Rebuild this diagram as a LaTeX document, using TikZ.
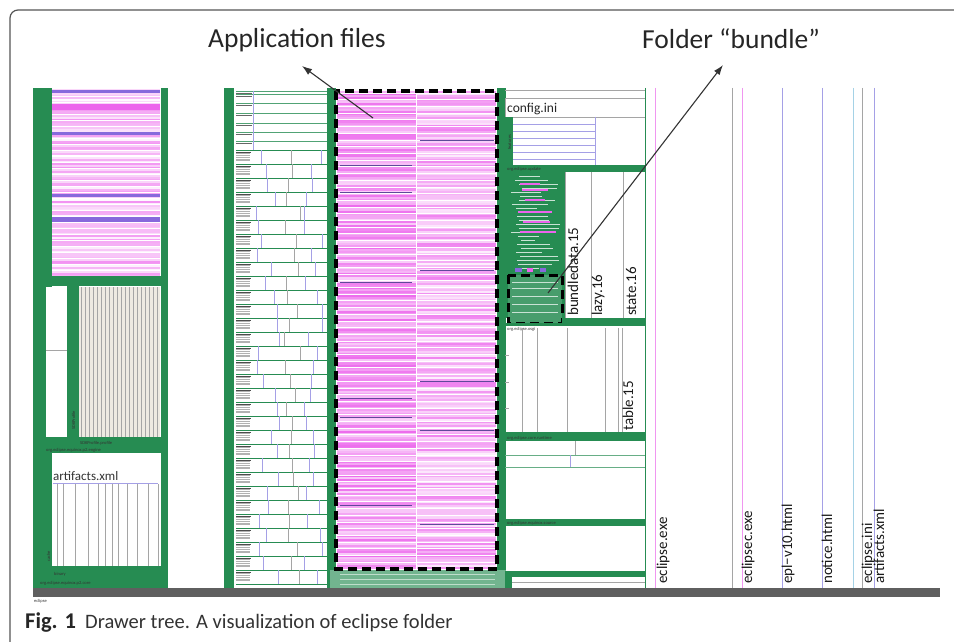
\documentclass[tikz,border=0pt]{standalone}
\usepackage{fontspec}
\setmainfont{Carlito}
\usetikzlibrary{arrows.meta}
\definecolor{tg}{RGB}{38,140,82}
\definecolor{pk}{RGB}{236,100,236}
\definecolor{pu}{RGB}{135,105,220}
\definecolor{barc}{RGB}{95,95,95}
\definecolor{framec}{RGB}{85,85,85}
\definecolor{lgr}{RGB}{165,165,165}
\definecolor{lbl}{RGB}{165,160,230}
\definecolor{fpk}{RGB}{240,150,240}
\definecolor{flb}{RGB}{165,210,230}
\definecolor{beige}{RGB}{238,234,226}
\begin{document}
\begin{tikzpicture}[x=1pt,y=-1pt,
  title/.style={font=\fontsize{27.5}{30}\selectfont, text=black!85, inner sep=0pt, anchor=base west},
  vlab/.style={font=\fontsize{15}{16}\selectfont, rotate=90, anchor=base west, inner sep=0pt, text=black!90},
  tiny/.style={font=\fontsize{4.5}{5}\selectfont, inner sep=0pt, anchor=base west, text=black!80},
  tinyv/.style={tiny, rotate=90},
  arr/.style={-{Latex[length=10pt,width=7pt]}, line width=1.1pt, black!80},
  dbox/.style={draw=black, line width=3.3pt, dash pattern=on 9pt off 5pt},
  filel/.style={line width=1pt}]
\useasboundingbox (0,0) rectangle (954,642);
\fill[white] (0,0) rectangle (954,642);
% frame
\draw[framec, line width=1.2pt, rounded corners=8pt] (10,642) -- (10,10) -- (954,10);

% ================= column 1 =================
\fill[tg] (33,88) rectangle (52,597);
\fill[tg] (161,88) rectangle (168,597);
\pgfmathsetseed{11}
\foreach \k in {0,...,93}{
  \pgfmathsetmacro\yy{89+\k*2}
  \pgfmathtruncatemacro\ma{random(0,70)}
  \fill[pk!\ma!white] (52,\yy) rectangle (160,\yy+2);
}
\foreach \k in {0,...,30}{
  \pgfmathsetmacro\yy{90+\k*6}
  \draw[white, line width=0.7pt] (52,\yy) -- (160,\yy);
}
\fill[pu] (52,90) rectangle (160,93);
\fill[pk] (52,104) rectangle (160,110);
\fill[pu] (52,132) rectangle (160,134.5);
\fill[pu] (52,194) rectangle (160,196.5);
\fill[pu] (52,217) rectangle (160,221.5);
\fill[tg] (45,276) rectangle (162,286);
\fill[white] (46,287) rectangle (67,452);
\draw[lgr] (46,350) -- (67,350);
\fill[tg] (67,286) rectangle (79,452);
\fill[beige] (79,287) rectangle (160,437);
\foreach \xx in {81,85,...,159}{\draw[lgr, line width=0.7pt] (\xx,287) -- (\xx,437);}
\fill[tg] (45,437) rectangle (162,453);
\fill[white] (52,453) rectangle (160,566);
\node[font=\fontsize{13}{14}\selectfont, inner sep=0pt, anchor=base west, text=black!80] (artA) at (53,480) {artifacts.xml};
\draw[lbl, line width=0.8pt] (53,483) -- (158,483);
\foreach \xx in {57,63,75,88,98,105,112,118,127,137,148,158}{\draw[lgr, line width=0.8pt] (\xx,484) -- (\xx,566);}
\fill[tg] (33,566) rectangle (162,588);
\node[tiny] (sdkp) at (80,444) {SDKProfile.profile};
\node[tiny] (p2eng) at (46,451) {org.eclipse.equinox.p2.engine};
\node[tinyv] (sdkv) at (75,430) {SDKProfile};
\node[tiny] (bin) at (54,575) {binary};
\node[tinyv] (cachev) at (50,562) {cache};
\node[tiny] (p2core) at (40,584) {org.eclipse.equinox.p2.core};

% ================= column 2 =================
\fill[tg] (224,88) rectangle (234,597);
\foreach \yy in {91,94,103,113,123,132,141}{
  \draw[tg!80, line width=0.8pt] (236,\yy) -- (328,\yy);
  \draw[black!60, line width=0.9pt] (236,\yy+2) -- (252,\yy+2);
}
\draw[lbl] (253,91) -- (253,150);
\pgfmathsetseed{5}
\foreach \k in {0,...,30}{
  \pgfmathsetmacro\yy{150+\k*14}
  \draw[tg, line width=1pt] (236,\yy) -- (328,\yy);
  \fill[gray!60] (236,\yy+2) rectangle (250,\yy+12);
  \foreach \j in {0,...,3}{\draw[white, line width=0.7pt] (236,\yy+4+\j*2.3) -- (250,\yy+4+\j*2.3);}
  \draw[black!70, line width=0.8pt] (236,\yy+2.5) -- (251,\yy+2.5);
  \pgfmathtruncatemacro\da{random(256,280)}
  \pgfmathtruncatemacro\db{random(284,300)}
  \pgfmathtruncatemacro\dc{random(304,322)}
  \draw[lbl, line width=0.7pt] (\da,\yy) -- (\da,\yy+14);
  \draw[lgr, line width=0.7pt] (\db,\yy) -- (\db,\yy+14);
  \draw[lbl, line width=0.7pt] (\dc,\yy) -- (\dc,\yy+14);
}
\draw[tg, line width=1pt] (236,584) -- (328,584);

% ================= column 3 (application files) =================
\fill[tg] (327,88) rectangle (336,597);
\fill[tg] (497,88) rectangle (506,597);
\pgfmathsetseed{42}
\foreach \k in {0,...,238}{
  \pgfmathsetmacro\yy{91+\k*2}
  \pgfmathtruncatemacro\ma{random(30,95)}
  \pgfmathtruncatemacro\mb{random(10,80)}
  \fill[pk!\ma!white] (337,\yy) rectangle (416,\yy+2);
  \fill[pk!\mb!white] (416,\yy) rectangle (496,\yy+2);
}
\foreach \k in {0,...,70}{
  \pgfmathsetmacro\yy{93+\k*6.7}
  \draw[white, line width=0.6pt] (337,\yy) -- (496,\yy);
}
\foreach \yy in {165,192,282,398,417,505}{\draw[pu!70!black, line width=0.5pt] (340,\yy) -- (412,\yy);}
\foreach \yy in {140,270,381,430,524}{\draw[pu!70!black, line width=0.5pt] (420,\yy) -- (494,\yy);}
\draw[white, line width=1pt] (416,91) -- (416,569);
\fill[tg!65] (330,570) rectangle (506,588);
\foreach \yy in {574,579,584}{\draw[white!70!tg, line width=0.6pt] (340,\yy) -- (495,\yy);}
\draw[dbox] (336,91) rectangle (497,569);

% ================= column 4 =================
\draw[lgr, line width=0.7pt] (505,90) -- (645,90);
\draw[lgr, line width=0.7pt] (505,98) rectangle (645,117);
\node[font=\fontsize{13.5}{14}\selectfont, inner sep=0pt, anchor=base west, text=black!85] (cfg) at (507,113) {config.ini};
\fill[tg] (505,117) rectangle (513,167);
\foreach \yy in {124,131,138,145,152,159}{\draw[lbl, line width=0.8pt] (513,\yy) -- (595,\yy);}
\draw[lbl, line width=0.8pt] (595,117) -- (595,165);
\node[tinyv] (feat) at (511,150) {features};
\fill[tg] (505,165) rectangle (645,172);
\node[tiny] (upd) at (507,170.5) {org.eclipse.update};
% mosaic
\fill[tg] (505,172) rectangle (565,318);
\pgfmathsetseed{3}
\foreach \k in {0,...,23}{
  \pgfmathsetmacro\yy{176+\k*4}
  \pgfmathtruncatemacro\ea{random(535,560)}
  \pgfmathtruncatemacro\sa{random(510,522)}
  \draw[white!75!tg, line width=0.8pt] (\sa,\yy) -- (\ea,\yy);
}
\foreach \yy/\a/\b in {184/520/540, 190/522/548, 200/525/545, 212/518/552, 222/523/550, 232/520/556}{\fill[pk] (\a,\yy-1.2) rectangle (\b,\yy+1.2);}
\fill[pu] (515,268) rectangle (522,272);
\fill[pk] (527,268) rectangle (533,272);
\fill[pu] (540,268) rectangle (546,272);
\fill[tg!85] (508,275) rectangle (562,323);
\foreach \yy in {282,288,296,304,312}{\draw[white!75!tg, line width=0.8pt] (512,\yy) -- (558,\yy);}
\draw[dbox, line width=3pt] (508,275) rectangle (562,323);
\foreach \xx in {565,591,623}{\draw[lgr, line width=0.8pt] (\xx,172) -- (\xx,318);}
\node[vlab] (bd) at (578,316) {bundledata.15};
\node[vlab] (lz) at (602,316) {lazy.16};
\node[vlab] (st) at (636,316) {state.16};
\fill[tg] (562,318) rectangle (645,326);
\fill[tg] (505,323) rectangle (562,326);
\node[tiny] (osgi) at (507,330) {org.eclipse.osgi};
\foreach \xx in {522,537,567,605,618,622}{\draw[lgr, line width=0.8pt] (\xx,328) -- (\xx,432);}
\foreach \yy in {355,382,408}{\draw[lgr] (505,\yy) -- (509,\yy);}
\node[vlab] (tb) at (633,431) {table.15};
\fill[tg] (505,432) rectangle (645,441);
\node[tiny] (rt) at (507,439.5) {org.eclipse.core.runtime};
\draw[tg!70, line width=0.8pt] (505,455) -- (645,455);
\draw[tg!70, line width=0.8pt] (505,467) -- (645,467);
\draw[lgr, line width=0.8pt] (575,441) -- (575,455);
\draw[lbl, line width=0.8pt] (570,455) -- (570,467);
\fill[tg] (505,519) rectangle (645,526);
\node[tiny] (src) at (507,524.5) {org.eclipse.equinox.source};
\fill[tg] (505,571) rectangle (645,577);
\draw[lgr, line width=0.8pt] (512,582) -- (645,582);
\fill[tg] (505,577) rectangle (512,588);
\draw[tg, line width=0.8pt] (645,88) -- (645,588);

% ================= column 5 (files) =================
\draw[fpk, filel] (655,88) -- (655,588);
\draw[lgr, filel] (732,88) -- (732,588);
\draw[fpk, filel] (742,88) -- (742,588);
\draw[lbl, filel] (782,88) -- (782,588);
\draw[lbl, filel] (822,88) -- (822,588);
\draw[flb, filel] (853,88) -- (853,588);
\draw[lgr, filel] (862,88) -- (862,588);
\draw[lbl, filel] (874,88) -- (874,588);
\node[vlab] (f1) at (667,584) {eclipse.exe};
\node[vlab] (f2) at (752,584) {eclipsec.exe};
\node[vlab] (f3) at (792,584) {epl−v10.html};
\node[vlab] (f4) at (832,584) {notice.html};
\node[vlab] (f5) at (872,584) {eclipse.ini};
\node[vlab] (f6) at (884,584) {artifacts.xml};

% bottom bar
\fill[barc] (33,588) rectangle (940,597);
\node[tiny] (ecl) at (34,602) {eclipse};

% ================= titles and arrows =================
\node[title] (tApp) at (208,48) {Application files};
\node[title] (tBun) at (642,49) {Folder “bundle”};
\coordinate (appTail) at (373,118);
\coordinate (appHead) at (302,66);
\coordinate (bunTail) at (548,293);
\coordinate (bunHead) at (723,65);
\draw[arr] (appTail) -- (appHead);
\draw[arr] (bunTail) -- (bunHead);

% caption
\node[font=\bfseries\fontsize{22.5}{24}\selectfont, inner sep=0pt, anchor=base west, text=black!85] (figl) at (25,628) {Fig. 1};
\node[font=\fontsize{20.5}{22}\selectfont, inner sep=0pt, anchor=base west, text=black!80] (capt) at (85,628) {Drawer tree. A visualization of eclipse folder};
\end{tikzpicture}
\end{document}
